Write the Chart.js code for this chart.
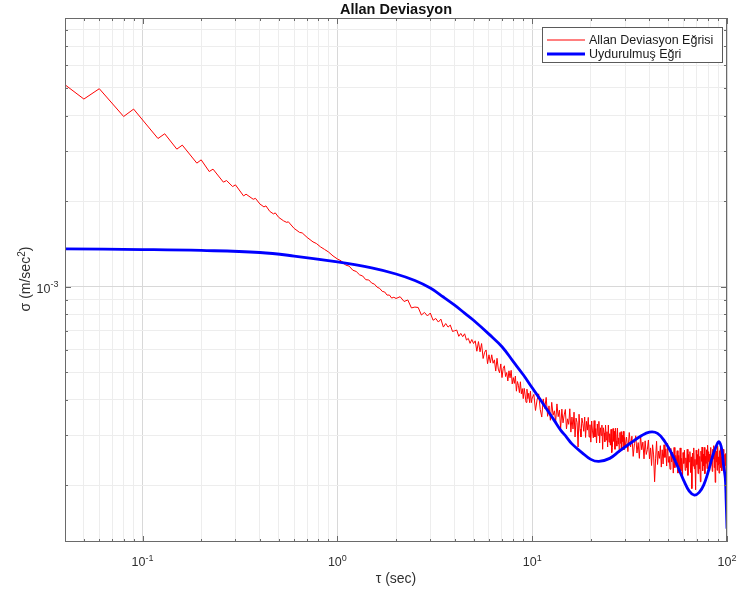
<!DOCTYPE html>
<html>
<head>
<meta charset="utf-8">
<title>Allan Deviasyon</title>
<script src="https://cdn.jsdelivr.net/npm/chart.js@4/dist/chart.umd.min.js"></script>
<style>
  html, body { margin: 0; padding: 0; background: #ffffff; }
  canvas { display: block; }
</style>
</head>
<body>
<canvas id="chart" width="739" height="599"></canvas>
<script>
// ---- Allan deviation curve: tau in seconds, sigma in 10^-6 m/sec^2 ----
const shortTau = [0.04,0.05,0.06,0.08,0.09,0.12,0.13,0.15,0.16,0.19,0.20,0.22,0.23,0.26,0.27,0.29,0.30,0.33,0.34,
  0.37,0.38,0.40,0.42,0.43,0.45,0.47,0.48,0.50,0.53,0.55,0.56,0.60,0.64,0.66,0.70,0.75,0.78,0.82,0.86,0.90,0.95,1.00];
const shortSigma = [5131,4570,4969,3968,4213,3320,3450,3046,3147,2720,2793,2541,2591,2332,2362,2250,2281,2086,2115,
  2030,2045,1955,1908,1924,1840,1803,1818,1753,1704,1683,1692,1603,1552,1546,1490,1437,1419,1380,1352,1325,1283,1252];

const midTau = [1.05,1.1,1.15,1.2,1.25,1.3,1.35,1.4,1.45,1.5,1.55,1.6,1.65,1.7,1.75,1.8,1.85,1.9,1.95,2,
  2.1,2.2,2.3,2.4,2.5,2.6,2.7,2.8,2.9,3,3.1,3.2,3.3,3.4,3.5,3.6,3.7,3.8,3.9,4,4.1,4.2,4.3,4.4,4.5,4.6,4.7,4.8,4.9,5,
  5.1,5.2,5.3,5.4,5.5,5.6,5.7,5.8,5.9,6,6.1,6.2,6.3,6.4,6.5,6.6,6.7,6.8,6.9,7,
  7.1,7.2,7.3,7.4,7.5,7.6,7.7,7.8,7.9,8,8.1,8.2,8.3,8.4,8.5,8.6,8.7,8.8,8.9,9,
  9.1,9.2,9.3,9.4,9.5,9.6,9.7,9.8,9.9,10];
const midSigma = [1231,1192,1181,1143,1131,1101,1090,1058,1056,1030,1021,996,986,963,958,934,935,912,918,909,
  922,887,898,842,848,845,795,812,789,808,762,773,751,769,721,742,721,733,696,700,704,669,685,667,683,649,658,632,652,631,
  645,593,641,590,631,559,588,599,536,576,540,576,538,553,505,560,513,498,535,479,
  516,527,483,499,466,506,478,508,455,479,457,485,429,464,450,424,463,420,438,404,
  439,416,392,436,404,422,391,429,391,406];

const longTau = [10.2,10.4,10.6,10.8,11,11.2,11.4,11.6,11.8,12,12.2,12.4,12.6,12.8,13,13.2,13.4,13.6,13.8,14,
  14.2,14.4,14.6,14.8,15,15.2,15.4,15.6,15.8,16,16.2,16.4,16.6,16.8,17,17.2,17.4,17.6,17.8,18,
  18.2,18.4,18.6,18.8,19,19.2,19.4,19.6,19.8,20,20.2,20.4,20.6,20.8,21,21.2,21.4,21.6,21.8,22,
  22.2,22.4,22.6,22.8,23,23.2,23.4,23.6,23.8,24,24.2,24.4,24.6,24.8,25,25.2,25.4,25.6,25.8,26,
  26.2,26.4,26.6,26.8,27,27.2,27.4,27.6,27.8,28,28.2,28.4,28.6,28.8,29,29.2,29.4,29.6,29.8,30];
const longSigma = [418,367,400,420,370,348,403,373,408,350,381,339,392,353,366,335,387,349,368,317,
  371,332,354,370,316,343,328,372,308,348,316,362,296,345,333,273,356,316,296,345,
  330,310,348,295,336,313,347,296,327,284,337,311,294,338,296,317,282,329,300,336,
  282,319,300,326,268,319,306,285,326,289,309,273,326,284,304,277,315,261,272,317,
  286,310,268,318,287,275,318,280,294,262,307,281,309,266,300,285,310,267,295,271];

const tailTau = [30.5,31,31.5,32,32.5,33,33.5,34,34.5,35,35.5,36,36.5,37,37.5,38,38.5,39,39.5,40,
  40.5,41,41.5,42,42.5,43,43.5,44,44.5,45,45.5,46,46.5,47,47.5,48,48.5,49,49.5,50,
  50.5,51,51.5,52,52.5,53,53.5,54,54.5,55,55.5,56,56.5,57,57.5,58,58.5,59,59.5,60,
  60.5,61,61.5,62,62.5,63,63.5,64,64.5,65,65.5,66,66.5,67,67.5,68,68.5,69,69.5,70,
  70.5,71,71.5,72,72.5,73,73.5,74,74.5,75,75.5,76,76.5,77,77.5,78,78.5,79,79.5,80,
  80.5,81,81.5,82,82.5,83,83.5,84,84.5,85,85.5,86,86.5,87,87.5,88,88.5,89,89.5,90,
  90.5,91,91.5,92,92.5,93,93.5,94,94.5,95,95.5,96,96.5,97,97.5,98,98.5,99,99.5,100];
const tailSigma = [296,263,307,273,298,253,281,299,260,283,249,299,267,284,248,287,257,267,289,248,
  271,235,278,256,206,248,286,237,264,249,276,232,267,238,278,251,269,234,281,241,
  253,228,270,242,262,221,272,231,255,244,265,221,255,231,271,225,249,215,261,239,
  266,226,250,231,268,217,257,242,263,222,252,195,260,234,271,229,247,193,266,237,
  257,220,269,229,253,206,264,243,273,225,258,234,272,220,253,239,267,229,277,243,
  263,225,258,234,272,239,252,224,268,248,276,231,260,205,271,242,264,226,275,236,
  252,221,265,238,270,231,252,225,258,243,268,225,251,216,257,235,259,224,244,238];

// ---- Fitted curve: tau in seconds, sigma in 10^-6 m/sec^2 ----
const fitTau = [0.04,0.1,0.2,0.4,0.6,1,1.5,2,2.5,3,3.5,4,4.5,5,6,7,8,9,10,11,12,13,14,15,16,18,20,22,25,28,
  32,36,40,44,48,52,56,60,64,68,72,76,80,84,88,91,94,96,98,99,100];
const fitSigma = [1358,1351,1341,1319,1282,1222,1164,1108,1051,989,920,861,807,762,681,615,545,490,441,401,367,338,313,296,280,261,247,243,249,264,
  282,298,308,305,285,259,232,208,191,185,189,201,223,251,275,285,268,235,212,177,141];

// ---- Axes ----
const xRange = [0.04, 100];
const yRange = [1.265e-4, 8.81e-3];
const xMajorTicks = [0.1, 1, 10, 100];
const xTickExponents = ['-1', '0', '1', '2'];
const xMinorTicks = [0.05,0.06,0.07,0.08,0.09, 0.2,0.3,0.4,0.5,0.6,0.7,0.8,0.9, 2,3,4,5,6,7,8,9, 20,30,40,50,60,70,80,90];
const yMajorTicks = [1e-3];
const yTickExponents = ['-3'];
const yMinorTicks = [2e-4,3e-4,4e-4,5e-4,6e-4,7e-4,8e-4,9e-4, 2e-3,3e-3,4e-3,5e-3,6e-3,7e-3,8e-3];

const seriesNames = ['Allan Deviasyon Eğrisi', 'Uydurulmuş Eğri'];
const seriesColors = ['#ff0000', '#0000ff'];
const seriesWidths = [1, 2.8];
const chartTitle = 'Allan Deviasyon';
const xTitle = 'τ (sec)';
const yTitle = ['σ (m/sec', '2', ')'];

const UNIT = 1e-6;
const FONT = '"Liberation Sans", Arial, Helvetica, sans-serif';
const AXIS_COLOR = '#6a6a6a';
const TEXT_COLOR = '#303030';

const toPoints = (t, s) => t.map((v, i) => ({ x: v, y: s[i] * UNIT }));
const allanPoints = [].concat(
  toPoints(shortTau, shortSigma), toPoints(midTau, midSigma),
  toPoints(longTau, longSigma), toPoints(tailTau, tailSigma));
const fitPoints = toPoints(fitTau, fitSigma);

const isDecade = v => Math.abs(Math.log10(v) - Math.round(Math.log10(v))) < 1e-9;
const gridColor = c => (c.tick && isDecade(c.tick.value)) ? '#d8d8d8' : '#ededed';

// "10" with a raised exponent, anchored by centre or right edge
function drawPower(ctx, exp, anchorX, baseline, align) {
  ctx.font = '12.5px ' + FONT;
  const wBase = ctx.measureText('10').width;
  ctx.font = '9px ' + FONT;
  const wExp = ctx.measureText(exp).width;
  const total = wBase + wExp;
  const left = align === 'center' ? anchorX - total / 2 : anchorX - total;
  ctx.textAlign = 'left';
  ctx.textBaseline = 'alphabetic';
  ctx.font = '12.5px ' + FONT;
  ctx.fillText('10', left, baseline);
  ctx.font = '9px ' + FONT;
  ctx.fillText(exp, left + wBase, baseline - 5.5);
}

const axesFrame = {
  id: 'axesFrame',
  afterDatasetsDraw(chart) {
    const { ctx, chartArea: a, scales: { x, y } } = chart;
    ctx.save();
    ctx.strokeStyle = AXIS_COLOR;
    ctx.lineWidth = 1;
    ctx.strokeRect(a.left + 0.5, a.top + 0.5, a.right - a.left - 1, a.bottom - a.top - 1);

    const seg = (x1, y1, x2, y2) => { ctx.beginPath(); ctx.moveTo(x1, y1); ctx.lineTo(x2, y2); ctx.stroke(); };
    const xTicks = xMajorTicks.map(v => [v, 6]).concat(xMinorTicks.map(v => [v, 3]));
    xTicks.forEach(([v, len]) => {
      const px = Math.round(x.getPixelForValue(v)) + 0.5;
      seg(px, a.bottom, px, a.bottom - len);
      seg(px, a.top, px, a.top + len);
    });
    const yTicks = yMajorTicks.map(v => [v, 6]).concat(yMinorTicks.map(v => [v, 3]));
    yTicks.forEach(([v, len]) => {
      const py = Math.round(y.getPixelForValue(v)) + 0.5;
      seg(a.left, py, a.left + len, py);
      seg(a.right, py, a.right - len, py);
    });

    // legend
    const lx = 542.5, ly = 27.5, lw = 180, lh = 35;
    ctx.fillStyle = '#ffffff';
    ctx.fillRect(lx, ly, lw, lh);
    ctx.strokeStyle = '#5a5a5a';
    ctx.strokeRect(lx, ly, lw, lh);
    const rows = [40, 54];
    ctx.font = '12.5px ' + FONT;
    ctx.textAlign = 'left';
    ctx.textBaseline = 'middle';
    chart.data.datasets.forEach((ds, i) => {
      ctx.strokeStyle = ds.borderColor;
      ctx.lineWidth = ds.borderWidth;
      seg(547, rows[i], 585, rows[i]);
      ctx.fillStyle = '#1a1a1a';
      ctx.fillText(ds.label, 589, rows[i] + 0.5);
    });
    ctx.restore();
  },
  afterDraw(chart) {
    const { ctx, chartArea: a, scales: { x, y } } = chart;
    ctx.save();
    ctx.fillStyle = TEXT_COLOR;

    xMajorTicks.forEach((v, i) => drawPower(ctx, xTickExponents[i], x.getPixelForValue(v), 566, 'center'));
    yMajorTicks.forEach((v, i) => drawPower(ctx, yTickExponents[i], a.left - 6.5, y.getPixelForValue(v) + 6, 'right'));

    const cx = (a.left + a.right) / 2;
    ctx.textAlign = 'center';
    ctx.textBaseline = 'alphabetic';
    ctx.fillStyle = '#111111';
    ctx.font = 'bold 14.5px ' + FONT;
    ctx.fillText(chartTitle, cx, 14);

    ctx.fillStyle = TEXT_COLOR;
    ctx.font = '14px ' + FONT;
    ctx.fillText(xTitle, cx, 583);

    // rotated y title with superscript
    ctx.translate(30, (a.top + a.bottom) / 2 - 1);
    ctx.rotate(-Math.PI / 2);
    ctx.font = '14px ' + FONT;
    const w0 = ctx.measureText(yTitle[0]).width;
    const w2 = ctx.measureText(yTitle[2]).width;
    ctx.font = '10px ' + FONT;
    const w1 = ctx.measureText(yTitle[1]).width;
    const left = -(w0 + w1 + w2) / 2;
    ctx.textAlign = 'left';
    ctx.font = '14px ' + FONT;
    ctx.fillText(yTitle[0], left, 0);
    ctx.font = '10px ' + FONT;
    ctx.fillText(yTitle[1], left + w0, -5.5);
    ctx.font = '14px ' + FONT;
    ctx.fillText(yTitle[2], left + w0 + w1, 0);
    ctx.restore();
  }
};

new Chart(document.getElementById('chart'), {
  type: 'line',
  data: {
    datasets: [
      {
        label: seriesNames[0], data: allanPoints,
        borderColor: seriesColors[0], borderWidth: seriesWidths[0],
        pointRadius: 0, tension: 0, fill: false, order: 1
      },
      {
        label: seriesNames[1], data: fitPoints,
        borderColor: seriesColors[1], borderWidth: seriesWidths[1],
        pointRadius: 0, tension: 0.4, fill: false, order: 0
      }
    ]
  },
  options: {
    responsive: false,
    animation: false,
    devicePixelRatio: 1,
    layout: { padding: { left: 65, right: 12, top: 18, bottom: 57 } },
    scales: {
      x: {
        type: 'logarithmic', min: xRange[0], max: xRange[1],
        afterBuildTicks: s => { s.ticks = xMajorTicks.concat(xMinorTicks).sort((p, q) => p - q).map(v => ({ value: v })); },
        afterFit: s => { s.height = 0; },
        ticks: { display: false },
        grid: { drawTicks: false, lineWidth: 1, color: gridColor },
        border: { display: false },
        title: { display: false }
      },
      y: {
        type: 'logarithmic', min: yRange[0], max: yRange[1],
        afterBuildTicks: s => { s.ticks = yMajorTicks.concat(yMinorTicks).sort((p, q) => p - q).map(v => ({ value: v })); },
        afterFit: s => { s.width = 0; },
        ticks: { display: false },
        grid: { drawTicks: false, lineWidth: 1, color: gridColor },
        border: { display: false },
        title: { display: false }
      }
    },
    plugins: {
      legend: { display: false },
      title: { display: false },
      tooltip: { enabled: false }
    }
  },
  plugins: [axesFrame]
});
</script>
</body>
</html>
